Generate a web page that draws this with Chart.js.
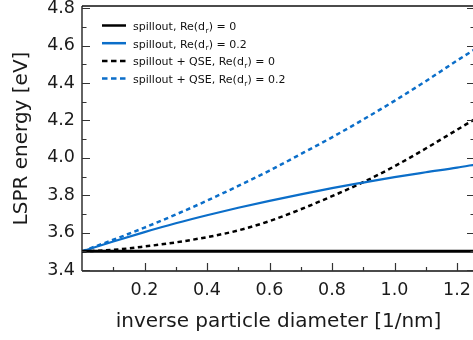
<!DOCTYPE html>
<html>
<head>
<meta charset="utf-8">
<script src="https://cdn.jsdelivr.net/npm/chart.js@4.4.1/dist/chart.umd.min.js"></script>
<style>
html, body { margin: 0; padding: 0; background: #fff; overflow: hidden; }
#lspr { display: block; }
</style>
</head>
<body>
<canvas id="lspr" width="478" height="340"></canvas>
<script>
// inverse diameter samples [1/nm]
var invDiameter = [0, 0.1, 0.2, 0.3, 0.4, 0.5, 0.6, 0.7, 0.8, 0.9, 1.0, 1.1, 1.2, 1.26];

// LSPR energies [eV]
var spilloutRe0   = [3.5, 3.5, 3.5, 3.5, 3.5, 3.5, 3.5, 3.5, 3.5, 3.5, 3.5, 3.5, 3.5, 3.5];
var spilloutRe02  = [3.5, 3.553, 3.603, 3.65, 3.693, 3.733, 3.77, 3.805, 3.838, 3.868, 3.897, 3.923, 3.948, 3.965];
var qseRe0        = [3.5, 3.508, 3.526, 3.548, 3.576, 3.612, 3.662, 3.725, 3.795, 3.87, 3.955, 4.05, 4.15, 4.21];
var qseRe02       = [3.5, 3.562, 3.627, 3.697, 3.771, 3.85, 3.932, 4.02, 4.11, 4.205, 4.305, 4.41, 4.52, 4.583];

var seriesNames = [
    "spillout, Re(d_r) = 0",
    "spillout, Re(d_r) = 0.2",
    "spillout + QSE, Re(d_r) = 0",
    "spillout + QSE, Re(d_r) = 0.2"
];

var xTicks = [0.2, 0.4, 0.6, 0.8, 1.0, 1.2];
var xMinor = [0.1, 0.3, 0.5, 0.7, 0.9, 1.1];
var yTicks = [3.4, 3.6, 3.8, 4.0, 4.2, 4.4, 4.6, 4.8];
var yMinor = [3.5, 3.7, 3.9, 4.1, 4.3, 4.5, 4.7];

var BLUE = "#0b6ec9";
var BLACK = "#000000";
var FONT = "'DejaVu Sans', Verdana, sans-serif";

var toPoints = function( values ){
    return values.map(function( v, i ){
        return { x: invDiameter[i], y: v };
    });
};

// frame lines and inward tick marks
var framePlugin = {
    id: "frame",
    afterDraw: function( chart ){
        var ctx = chart.ctx;
        var a = chart.chartArea;
        var xs = chart.scales.x, ys = chart.scales.y;
        ctx.save();
        ctx.strokeStyle = "#111";
        ctx.lineWidth = 1.3;
        ctx.beginPath();
        ctx.moveTo(a.left, a.top); ctx.lineTo(a.right, a.top);
        ctx.moveTo(a.left, a.top); ctx.lineTo(a.left, a.bottom);
        ctx.moveTo(a.left, a.bottom); ctx.lineTo(a.right, a.bottom);
        ctx.moveTo(a.right, a.top); ctx.lineTo(a.right, a.bottom);
        ctx.stroke();

        ctx.strokeStyle = "#333";
        ctx.lineWidth = 1.2;
        ctx.beginPath();
        var tickX = function( v, len ){
            var px = Math.round(xs.getPixelForValue(v)) + 0.5;
            ctx.moveTo(px, a.bottom); ctx.lineTo(px, a.bottom - len);
        };
        var tickY = function( v, len ){
            var py = Math.round(ys.getPixelForValue(v)) + 0.5;
            ctx.moveTo(a.left, py); ctx.lineTo(a.left + len, py);
            ctx.moveTo(a.right, py); ctx.lineTo(a.right - len, py);
        };
        xTicks.forEach(function( v ){ tickX(v, 8); });
        xMinor.forEach(function( v ){ tickX(v, 4); });
        yTicks.forEach(function( v ){ tickY(v, 8); });
        yMinor.forEach(function( v ){ tickY(v, 4.5); });
        ctx.stroke();
        ctx.restore();
    }
};

// legend with subscripted r in the labels
var legendPlugin = {
    id: "subLegend",
    afterDraw: function( chart ){
        var ctx = chart.ctx;
        ctx.save();
        chart.data.datasets.forEach(function( ds, i ){
            var y = 25.5 + i * 17.7;
            ctx.strokeStyle = ds.borderColor;
            ctx.lineWidth = 2.5;
            ctx.setLineDash(ds.borderDash ? [5.5, 3.5] : []);
            ctx.beginPath();
            ctx.moveTo(102, y);
            ctx.lineTo(126, y);
            ctx.stroke();
            ctx.setLineDash([]);

            var parts = ds.label.split("_r");
            var x = 133, base = y + 4.5;
            ctx.fillStyle = "#111";
            ctx.textBaseline = "alphabetic";
            ctx.font = "11px " + FONT;
            ctx.fillText(parts[0], x, base);
            x += ctx.measureText(parts[0]).width;
            ctx.font = "7.5px " + FONT;
            ctx.fillText("r", x + 0.3, base + 2.5);
            x += ctx.measureText("r").width + 0.6;
            ctx.font = "11px " + FONT;
            ctx.fillText(parts[1], x, base);
        });
        ctx.restore();
    }
};

var tickFont = { family: FONT, size: 17.5 };
var titleFont = { family: FONT, size: 20 };

var ctx = document.getElementById("lspr").getContext("2d");
var chart = new Chart(ctx, {
    type: "line",
    data: {
        datasets: [
            { label: seriesNames[0], data: toPoints(spilloutRe0), borderColor: BLACK, borderWidth: 3 },
            { label: seriesNames[1], data: toPoints(spilloutRe02), borderColor: BLUE, borderWidth: 2.2 },
            { label: seriesNames[2], data: toPoints(qseRe0), borderColor: BLACK, borderWidth: 2.5, borderDash: [4.5, 3.5] },
            { label: seriesNames[3], data: toPoints(qseRe02), borderColor: BLUE, borderWidth: 2.5, borderDash: [4.5, 3.5] }
        ]
    },
    options: {
        responsive: false,
        animation: false,
        devicePixelRatio: 1,
        layout: { padding: { top: 6, right: 3, left: 0, bottom: 0 } },
        elements: {
            point: { radius: 0 },
            line: { cubicInterpolationMode: "monotone", fill: false }
        },
        plugins: {
            legend: { display: false },
            tooltip: { enabled: false }
        },
        scales: {
            x: {
                type: "linear",
                min: 0,
                max: 1.2576,
                grid: { display: false, drawTicks: false },
                border: { display: false },
                afterBuildTicks: function( s ){
                    s.ticks = xTicks.map(function( v ){ return { value: v }; });
                },
                afterFit: function( s ){
                    s.height = 69;
                    s.paddingLeft = 0;
                    s.paddingRight = 0;
                },
                ticks: {
                    padding: 9,
                    maxRotation: 0,
                    autoSkip: false,
                    color: "#1a1a1a",
                    font: tickFont,
                    callback: function( v ){ return Number(v).toFixed(1); }
                },
                title: {
                    display: true,
                    text: "inverse particle diameter [1/nm]",
                    color: "#1a1a1a",
                    font: titleFont,
                    padding: { top: 0, bottom: 6.5 }
                }
            },
            y: {
                type: "linear",
                min: 3.395,
                max: 4.812,
                grid: { display: false, drawTicks: false },
                border: { display: false },
                afterBuildTicks: function( s ){
                    s.ticks = yTicks.map(function( v ){ return { value: v }; });
                },
                afterFit: function( s ){
                    s.width = 82;
                    s.paddingTop = 0;
                    s.paddingBottom = 0;
                },
                ticks: {
                    padding: 7,
                    autoSkip: false,
                    color: "#1a1a1a",
                    font: tickFont,
                    callback: function( v ){ return Number(v).toFixed(1); }
                },
                title: {
                    display: true,
                    text: "LSPR energy [eV]",
                    color: "#1a1a1a",
                    font: titleFont,
                    padding: { top: 10, bottom: 0 }
                }
            }
        }
    },
    plugins: [framePlugin, legendPlugin]
});
</script>
</body>
</html>
